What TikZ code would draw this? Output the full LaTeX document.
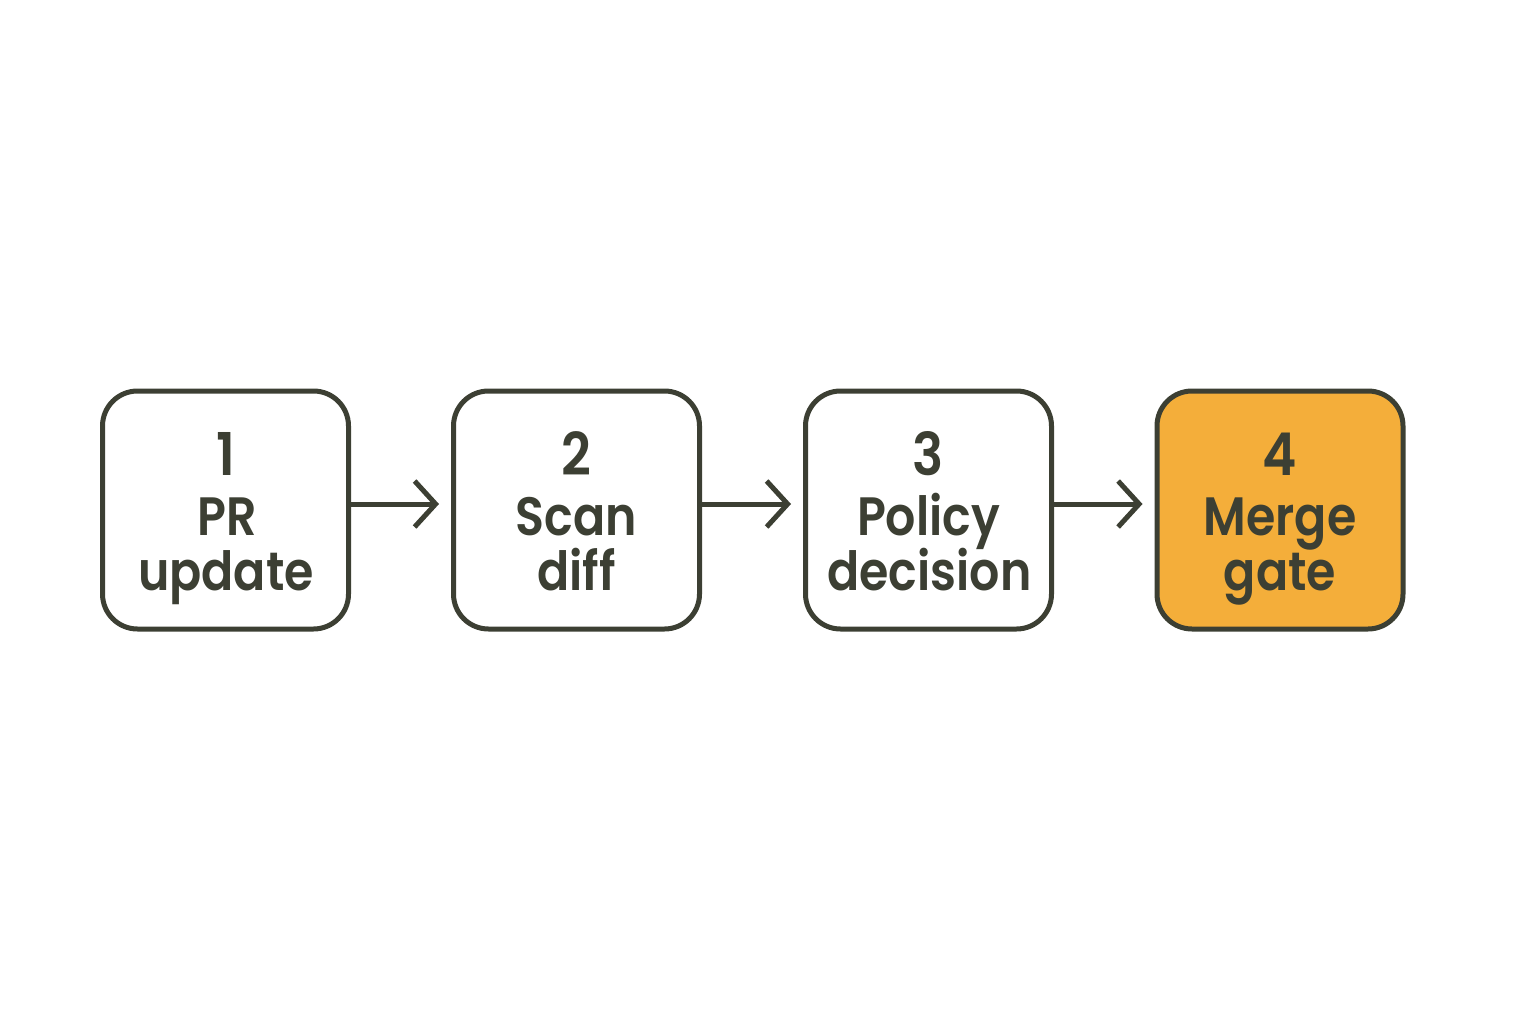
\documentclass[tikz,border=0pt]{standalone}
\usepackage{fontspec}
\setmainfont{Poppins}[UprightFont={* SemiBold}, FakeStretch=0.88]
\usetikzlibrary{arrows.meta}
\definecolor{ink}{HTML}{3C3F33}
\definecolor{gold}{HTML}{F4AE3A}
\begin{document}
\begin{tikzpicture}[x=1pt,y=-1pt,
  stepbox/.style={draw=ink, line width=5pt, rounded corners=35pt, fill=white,
    minimum width=246pt, minimum height=238pt, inner sep=0pt},
  numtxt/.style={anchor=base, inner sep=0pt, text=ink, font=\fontsize{59}{60}\selectfont},
  wordtxt/.style={anchor=base, inner sep=0pt, text=ink, font=\fontsize{54}{56}\selectfont},
  conn/.style={draw=ink, line width=5pt, -{Straight Barb[length=21pt,width=46pt,line width=5pt]}}]
\useasboundingbox (0,0) rectangle (1536,1024);
\node[stepbox] (s1) at (225.5,510) {};
\node[stepbox] (s2) at (576.5,510) {};
\node[stepbox] (s3) at (928.5,510) {};
\node[stepbox, fill=gold] (s4) at (1280,510) {};
\node[numtxt] (n1) at (225.5,475) {1};
\node[wordtxt] (a1) at (227,535) {PR};
\node[wordtxt] (b1) at (226,590) {update};
\node[numtxt] (n2) at (576.5,475) {2};
\node[wordtxt] (a2) at (576.5,535) {Scan};
\node[wordtxt] (b2) at (576.5,590) {diff};
\node[numtxt] (n3) at (928.5,475) {3};
\node[wordtxt] (a3) at (928.5,535) {Policy};
\node[wordtxt] (b3) at (929.5,590) {decision};
\node[numtxt] (n4) at (1280,475) {4};
\node[wordtxt] (a4) at (1280,535) {Merge};
\node[wordtxt] (b4) at (1280,590) {gate};
\draw[conn] ([yshift=6pt]s1.east) -- ([yshift=6pt,xshift=-12pt]s2.west);
\draw[conn] ([yshift=6pt]s2.east) -- ([yshift=6pt,xshift=-12pt]s3.west);
\draw[conn] ([yshift=6pt]s3.east) -- ([yshift=6pt,xshift=-12pt]s4.west);
\end{tikzpicture}
\end{document}
